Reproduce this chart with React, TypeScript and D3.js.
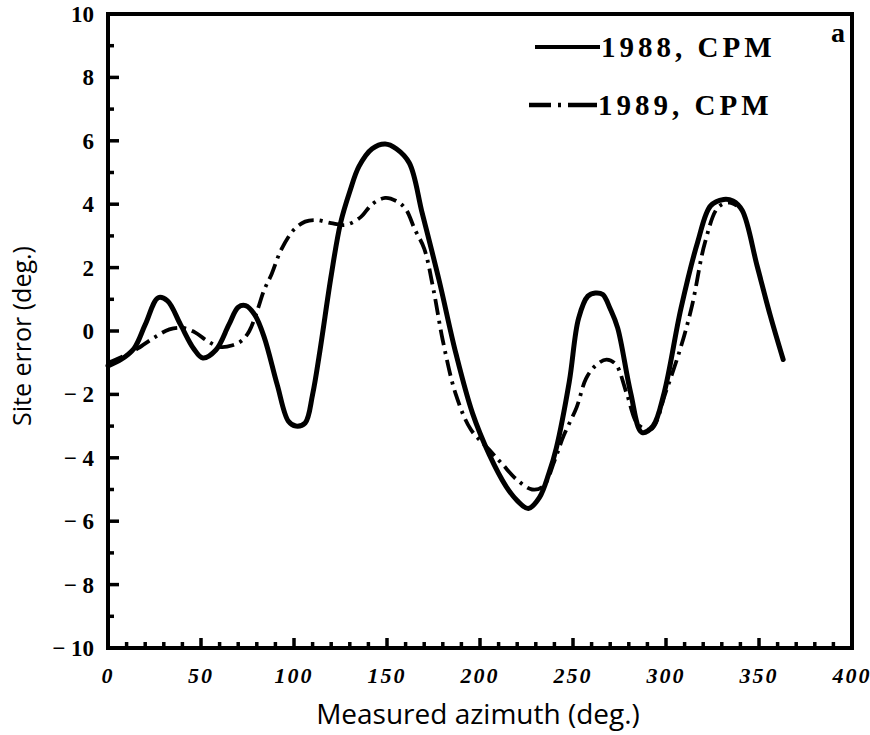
import React from "react";
import * as d3 from "d3";

const xTicksMajor = [0, 50, 100, 150, 200, 250, 300, 350, 400];
const xTickLabels = ["0", "50", "100", "150", "200", "250", "300", "350", "400"];
const yTicksMajor = [10, 8, 6, 4, 2, 0, -2, -4, -6, -8, -10];
const yTickLabels = ["10", "8", "6", "4", "2", "0", "− 2", "− 4", "− 6", "− 8", "− 10"];

const az1988 = [0, 7, 14, 20, 27, 32, 39, 46, 51, 58, 65, 70, 74, 79, 84, 91, 97, 101, 106, 110, 114, 120, 125, 130, 135, 142, 149, 155, 162, 169, 178, 187, 196, 205, 214, 220, 226, 232, 237, 241, 248, 253, 258, 262, 266, 270, 274, 281, 287, 293, 299, 308, 317, 324, 331, 336, 341, 349, 356, 363];
const err1988 = [-1.1, -0.9, -0.55, 0.2, 1.05, 0.95, 0.2, -0.55, -0.85, -0.6, 0.2, 0.75, 0.8, 0.5, -0.2, -1.7, -2.85, -3.0, -2.9, -2.0, -0.6, 1.75, 3.4, 4.4, 5.2, 5.75, 5.9, 5.75, 5.3, 3.7, 1.6, -0.7, -2.6, -3.9, -4.9, -5.35, -5.6, -5.25, -4.5, -3.7, -1.6, 0.4, 1.1, 1.2, 1.15, 0.7, 0.1, -1.95, -3.2, -3.0, -1.95, 0.7, 2.8, 3.95, 4.15, 4.1, 3.8, 2.05, 0.5, -0.9];

const az1989 = [0, 8, 16, 25, 33, 40, 47, 53, 60, 67, 72, 76, 80, 84, 88, 93, 100, 106, 112, 120, 128, 136, 142, 149, 155, 160, 165, 170, 175, 180, 187, 195, 205, 212, 220, 228, 234, 240, 245, 252, 257, 262, 268, 273, 279, 285, 292, 300, 308, 314, 321, 328, 334, 338];
const err1989 = [-1.0, -0.8, -0.55, -0.2, 0.05, 0.1, -0.05, -0.3, -0.5, -0.45, -0.3, 0.0, 0.6, 1.3, 1.8, 2.55, 3.2, 3.45, 3.5, 3.4, 3.35, 3.6, 4.0, 4.2, 4.1, 3.85, 3.2, 2.6, 1.3, -0.3, -2.0, -3.1, -3.75, -4.2, -4.7, -5.0, -4.9, -4.1, -3.3, -2.4, -1.5, -1.1, -0.9, -1.05, -2.0, -2.95, -3.1, -1.9, -0.5, 0.8, 2.8, 3.9, 4.05, 3.95];

const legendLabels = ["1988, CPM", "1989, CPM"];

export default function App() {
  const x = d3.scaleLinear().domain([0, 400]).range([108, 852]);
  const y = d3.scaleLinear().domain([-10, 10]).range([648, 14]);

  const line = d3
    .line<[number, number]>()
    .x((d) => x(d[0]))
    .y((d) => y(d[1]))
    .curve(d3.curveCatmullRom.alpha(0.5));

  const d1988 = line(az1988.map((a, i) => [a, err1988[i]] as [number, number])) || "";
  const d1989 = line(az1989.map((a, i) => [a, err1989[i]] as [number, number])) || "";

  const xMinor = d3.range(0, 401, 10).filter((v) => v % 50 !== 0);
  const yMinor = d3.range(-9, 10, 2);

  const serif = "'Liberation Serif', 'DejaVu Serif', serif";
  const sans = "'Open Sans', 'Noto Sans', sans-serif";

  return (
    <svg
      width={870}
      height={735}
      style={{ position: "absolute", left: 0, top: 0, background: "#fff" }}
    >
      {/* curves */}
      <path d={d1989} fill="none" stroke="#000" strokeWidth={3.8} strokeDasharray="16,6,3,6" />
      <path d={d1988} fill="none" stroke="#000" strokeWidth={5} strokeLinejoin="round" strokeLinecap="round" />

      {/* frame */}
      <rect x={x(0)} y={y(10)} width={x(400) - x(0)} height={y(-10) - y(10)} fill="none" stroke="#000" strokeWidth={4} />

      {/* y ticks */}
      {yTicksMajor.map((v) => (
        <line key={"ym" + v} x1={x(0)} x2={x(0) + 11} y1={y(v)} y2={y(v)} stroke="#000" strokeWidth={3.5} />
      ))}
      {yMinor.map((v) => (
        <line key={"yn" + v} x1={x(0)} x2={x(0) + 6} y1={y(v)} y2={y(v)} stroke="#000" strokeWidth={3.5} />
      ))}
      {yTicksMajor.map((v, i) => (
        <text key={"yl" + v} x={94} y={y(v)} dy="0.35em" textAnchor="end" fontFamily={serif} fontWeight="bold" fontSize={23}>
          {yTickLabels[i]}
        </text>
      ))}

      {/* x ticks */}
      {xTicksMajor.map((v) => (
        <line key={"xm" + v} x1={x(v)} x2={x(v)} y1={y(-10)} y2={y(-10) - 10} stroke="#000" strokeWidth={3.5} />
      ))}
      {xMinor.map((v) => (
        <line key={"xn" + v} x1={x(v)} x2={x(v)} y1={y(-10)} y2={y(-10) - 6} stroke="#000" strokeWidth={3.5} />
      ))}
      {xTicksMajor.map((v, i) => (
        <text key={"xl" + v} x={x(v)} y={683} textAnchor="middle" fontFamily={serif} fontWeight="bold" fontStyle="italic" fontSize={22} letterSpacing={2}>
          {xTickLabels[i]}
        </text>
      ))}

      {/* axis titles */}
      <text x={478} y={724} textAnchor="middle" fontFamily={sans} fontSize={28}>
        Measured azimuth (deg.)
      </text>
      <text transform="translate(31,336) rotate(-90)" textAnchor="middle" fontFamily={sans} fontSize={25}>
        Site error (deg.)
      </text>

      {/* legend */}
      <line x1={535} x2={600} y1={47} y2={47} stroke="#000" strokeWidth={4} />
      <text x={601} y={57} fontFamily={serif} fontWeight="bold" fontSize={29} letterSpacing={4}>
        {legendLabels[0]}
      </text>
      <path d="M529,105 L551,105 M558,105 L561,105 M568,105 L597,105" stroke="#000" strokeWidth={4.5} fill="none" />
      <text x={598} y={115} fontFamily={serif} fontWeight="bold" fontSize={29} letterSpacing={4}>
        {legendLabels[1]}
      </text>

      {/* panel letter */}
      <text x={838} y={42} textAnchor="middle" fontFamily={serif} fontWeight="900" fontSize={28}>
        a
      </text>
    </svg>
  );
}
